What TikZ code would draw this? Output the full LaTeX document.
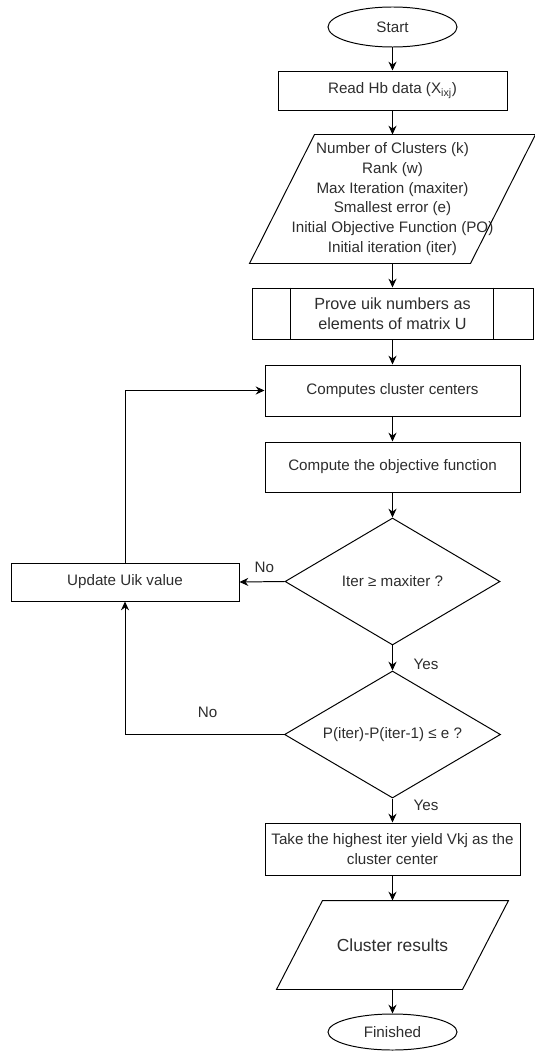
\documentclass[tikz,border=0pt]{standalone}
\usepackage{fontspec}
\setmainfont{Liberation Sans}
\usetikzlibrary{shapes.geometric,arrows.meta}
\definecolor{inkgray}{RGB}{45,45,45}

\begin{document}
\begin{tikzpicture}[x=1cm,y=1cm,
  font=\fontsize{10.8}{14}\selectfont,
  box/.style={draw, align=center, inner sep=0pt, line width=0.7pt, text=inkgray},
  term/.style={box, ellipse, minimum width=3.225cm, minimum height=1cm},
  proc/.style={box, rectangle, minimum width=6.375cm, minimum height=1.275cm},
  io/.style={box, draw=none, rectangle},
  dec/.style={box, diamond, aspect=1.7, minimum width=5.4cm, minimum height=3.175cm},
  arr/.style={-{Stealth[length=2.2mm,width=2mm]}, line width=0.7pt},
  lbl/.style={text=inkgray}]
\useasboundingbox (0,0) rectangle (13.375,-26.3);
\node[term] (start) at (9.8125,-0.675) {Start};
\node[proc, minimum width=5.725cm, minimum height=0.975cm] (read) at (9.8125,-2.2625) {Read Hb data (X\textsubscript{ixj})};
\node[io, minimum width=7.125cm, minimum height=3.2cm] (param) at (9.8125,-4.975) {Number of Clusters (k)\\Rank (w)\\Max Iteration (maxiter)\\Smallest error (e)\\Initial Objective Function (PO)\\Initial iteration (iter)};
\draw[line width=0.7pt] ([xshift=1.625cm]param.north west) -- (param.north east) -- ([xshift=-1.625cm]param.south east) -- (param.south west) -- cycle;
\node[proc, minimum width=7.025cm, font=\fontsize{11.5}{14.5}\selectfont] (prove) at (9.8125,-7.8375) {Prove uik numbers as\\elements of matrix U};
\draw[line width=0.7pt] ([xshift=0.975cm]prove.north west) -- ([xshift=0.975cm]prove.south west);
\draw[line width=0.7pt] ([xshift=-1cm]prove.north east) -- ([xshift=-1cm]prove.south east);
\node[proc] (comp) at (9.8125,-9.7625) {Computes cluster centers};
\node[proc, minimum height=1.25cm] (obj) at (9.8125,-11.675) {Compute the objective function};
\node[dec, minimum width=5.375cm] (iter) at (9.8125,-14.5375) {Iter ≥ maxiter ?};
\node[proc, minimum width=5.7cm, minimum height=0.95cm] (upd) at (3.125,-14.55) {Update Uik value};
\node[dec] (err) at (9.8125,-18.3625) {P(iter)-P(iter-1) ≤ e ?};
\node[proc, minimum height=1.3cm] (take) at (9.8125,-21.225) {Take the highest iter yield Vkj as the\\cluster center};
\node[io, minimum width=5.775cm, minimum height=2.2cm, font=\fontsize{12.4}{15}\selectfont] (res) at (9.8125,-23.625) {Cluster results};
\draw[line width=0.7pt] ([xshift=1.15cm]res.north west) -- (res.north east) -- ([xshift=-1.15cm]res.south east) -- (res.south west) -- cycle;
\node[term, minimum height=0.9cm] (fin) at (9.8125,-25.8) {Finished};
% main flow
\draw[arr] (start) -- (read);
\draw[arr] (read) -- (param);
\draw[arr] (param) -- (prove);
\draw[arr] (prove) -- (comp);
\draw[arr] (comp) -- (obj);
\draw[arr] (obj) -- (iter);
\draw[arr] (iter.south) -- node[lbl, pos=0.75, right=0.4cm] {Yes} (err.north);
\draw[arr] (err.south) -- node[lbl, pos=0.3, right=0.4cm] {Yes} (take.north);
\draw[arr] (take) -- (res);
\draw[arr] (res) -- (fin);
% loop back
\draw[arr] (iter.west) -- node[lbl, pos=0.45, above=3pt] {No} (upd.east);
\draw[arr] (err.west) -| node[lbl, pos=0.24, above=8pt] {No} (upd.south);
\draw[arr] (upd.north) |- (comp.west);
\end{tikzpicture}
\end{document}
